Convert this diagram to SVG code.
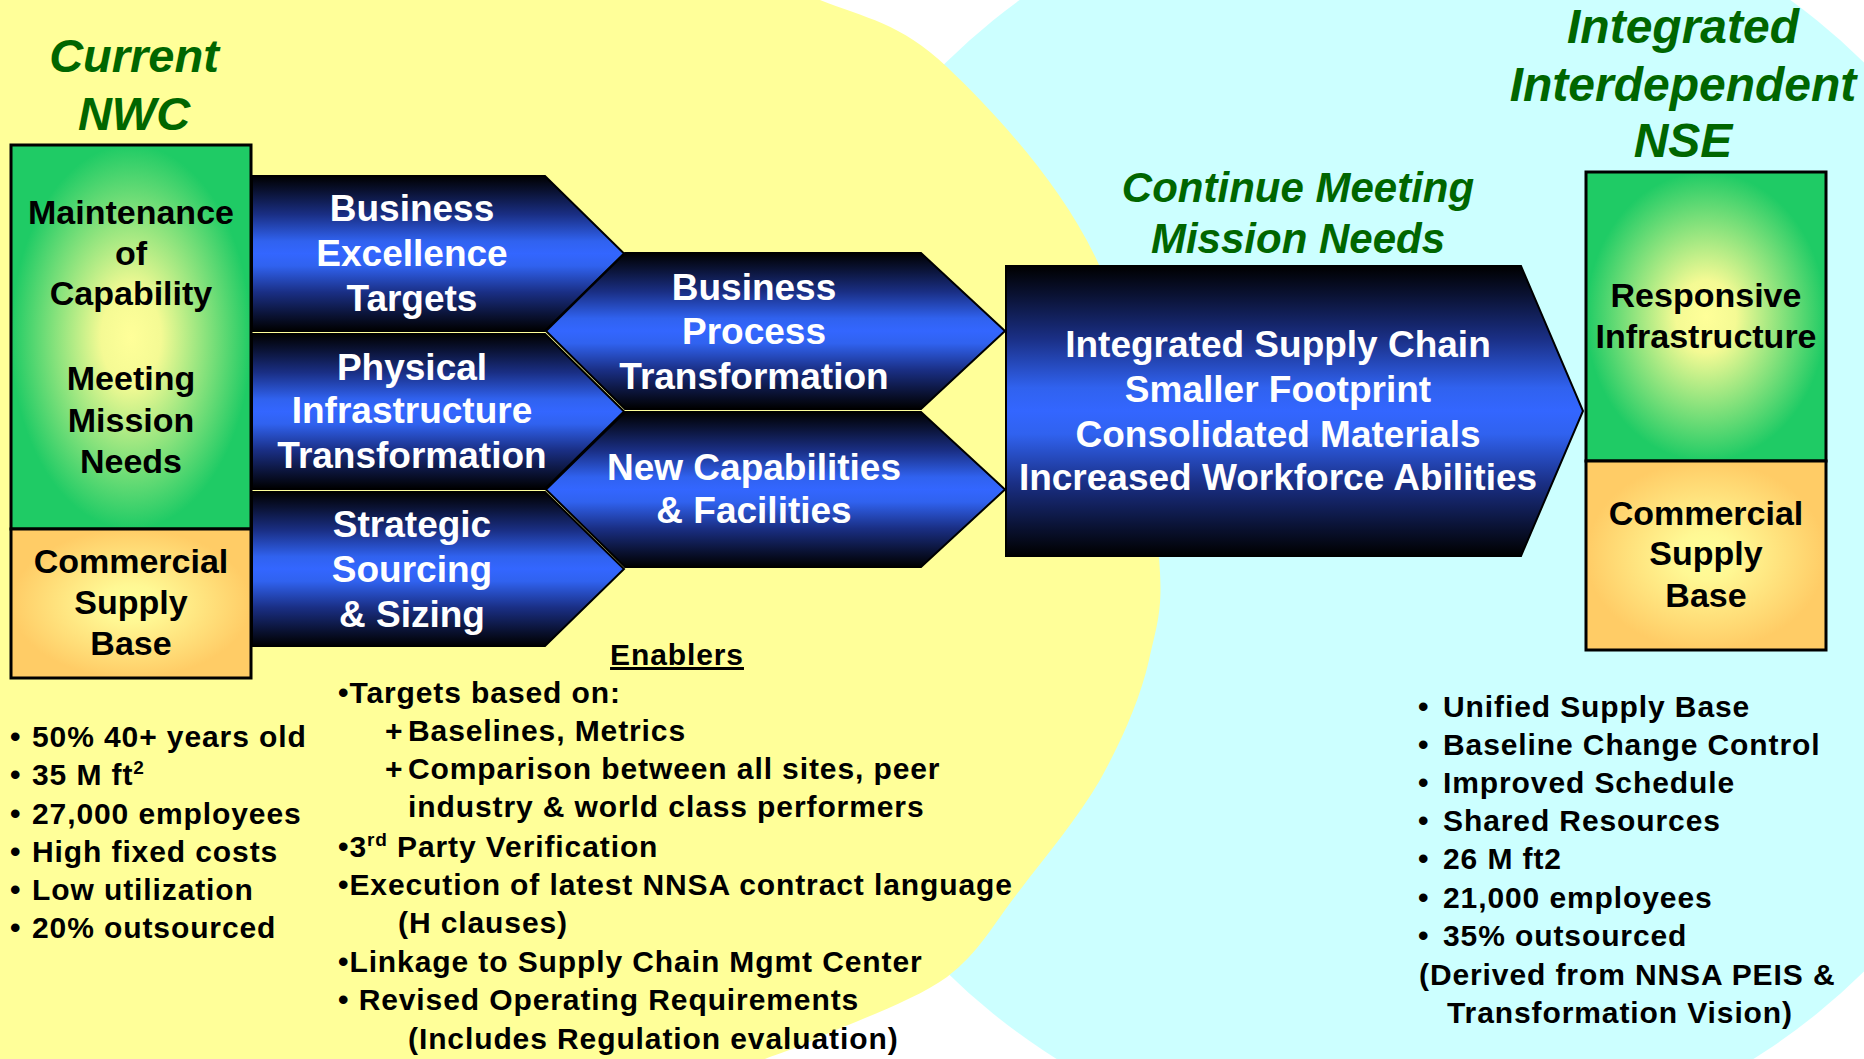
<svg xmlns="http://www.w3.org/2000/svg" width="1864" height="1059" viewBox="0 0 1864 1059">
<style>
.t{font-family:"Liberation Sans",Arial,Helvetica,sans-serif;font-weight:bold}
.w{fill:#fff;font-size:37px;text-anchor:middle}
.k{fill:#000;font-size:34px;text-anchor:middle}
.ttl{fill:#006600;font-style:italic;text-anchor:middle}
.b{fill:#000;font-size:30px;letter-spacing:0.9px}
.box{stroke:#000;stroke-width:3}
.arr{fill:url(#blue);stroke:#000;stroke-width:2;stroke-linejoin:miter}
</style>
<defs>
<linearGradient id="blue" x1="0" y1="0" x2="0" y2="1">
<stop offset="0" stop-color="#000000"/>
<stop offset="0.1" stop-color="#0a1233"/>
<stop offset="0.25" stop-color="#1a2f85"/>
<stop offset="0.42" stop-color="#3062ef"/>
<stop offset="0.5" stop-color="#3366ff"/>
<stop offset="0.58" stop-color="#3062ef"/>
<stop offset="0.75" stop-color="#1a2f85"/>
<stop offset="0.9" stop-color="#0a1233"/>
<stop offset="1" stop-color="#000000"/>
</linearGradient>
<radialGradient id="grn" cx="0.5" cy="0.5" r="0.5">
<stop offset="0" stop-color="#ffff99"/>
<stop offset="0.25" stop-color="#f4fa94"/>
<stop offset="1" stop-color="#1fcb65"/>
</radialGradient>
<radialGradient id="org" cx="0.5" cy="0.5" r="0.5">
<stop offset="0" stop-color="#ffff99"/>
<stop offset="0.25" stop-color="#fff894"/>
<stop offset="1" stop-color="#ffcc66"/>
</radialGradient>
</defs>

<g id="background">
<rect x="0" y="0" width="1864" height="1059" fill="#ffffff"/>
<ellipse cx="1405" cy="517" rx="650" ry="642" fill="#ccffff"/>
<path d="M0,0 L820,0 C865,18 900,22.5 947,67 C994,111.5 1065,188 1100,267 C1135,346 1149,474 1157,540 C1165,605 1158,620 1149,660 C1140,700 1121,742 1100,780 C1078,818 1045,857 1020,890 C994,923 980,952 947,977 C914,1001 850,1023 820,1037 C790,1051 785,1051 765,1059 L0,1059 Z" fill="#ffff99"/>
</g>

<g id="title-current">
<text class="t ttl" x="134" y="72" font-size="47">Current</text>
<text class="t ttl" x="134" y="130" font-size="47">NWC</text>
</g>
<g id="title-integrated">
<text class="t ttl" x="1683" y="43" font-size="48">Integrated</text>
<text class="t ttl" x="1683" y="101" font-size="48">Interdependent</text>
<text class="t ttl" x="1683" y="157" font-size="48">NSE</text>
</g>
<g id="title-continue">
<text class="t ttl" x="1298" y="202" font-size="42">Continue Meeting</text>
<text class="t ttl" x="1298" y="253" font-size="42">Mission Needs</text>
</g>

<g id="node-current-capability">
<rect class="box" x="11" y="145" width="240" height="384" fill="url(#grn)"/>
<text class="t k" x="131" y="224">Maintenance</text>
<text class="t k" x="131" y="265">of</text>
<text class="t k" x="131" y="305">Capability</text>
<text class="t k" x="131" y="390">Meeting</text>
<text class="t k" x="131" y="432">Mission</text>
<text class="t k" x="131" y="473">Needs</text>
</g>
<g id="node-current-supply">
<rect class="box" x="11" y="529" width="240" height="149" fill="url(#org)"/>
<text class="t k" x="131" y="573">Commercial</text>
<text class="t k" x="131" y="614">Supply</text>
<text class="t k" x="131" y="655">Base</text>
</g>

<g id="node-business-excellence">
<polygon class="arr" points="252,176 545,176 624,253.5 545,331 252,331"/>
<text class="t w" x="412" y="221">Business</text>
<text class="t w" x="412" y="266">Excellence</text>
<text class="t w" x="412" y="311">Targets</text>
</g>
<g id="node-physical-infrastructure">
<polygon class="arr" points="252,334 545,334 624,411.5 545,489 252,489"/>
<text class="t w" x="412" y="380">Physical</text>
<text class="t w" x="412" y="423">Infrastructure</text>
<text class="t w" x="412" y="468">Transformation</text>
</g>
<g id="node-strategic-sourcing">
<polygon class="arr" points="252,492 545,492 624,569 545,646 252,646"/>
<text class="t w" x="412" y="537">Strategic</text>
<text class="t w" x="412" y="582">Sourcing</text>
<text class="t w" x="412" y="627">&amp; Sizing</text>
</g>
<g id="node-business-process">
<polygon class="arr" points="546,331 625,253 921,253 1005,331 921,409 625,409"/>
<text class="t w" x="754" y="300">Business</text>
<text class="t w" x="754" y="344">Process</text>
<text class="t w" x="754" y="389">Transformation</text>
</g>
<g id="node-new-capabilities">
<polygon class="arr" points="546,489.5 625,412 921,412 1005,489.5 921,567 625,567"/>
<text class="t w" x="754" y="480">New Capabilities</text>
<text class="t w" x="754" y="523">&amp; Facilities</text>
</g>
<g id="node-integrated-supply-chain">
<polygon class="arr" points="1006,266 1521,266 1583,411 1521,556 1006,556"/>
<text class="t w" x="1278" y="357">Integrated Supply Chain</text>
<text class="t w" x="1278" y="402">Smaller Footprint</text>
<text class="t w" x="1278" y="447">Consolidated Materials</text>
<text class="t w" x="1278" y="490">Increased Workforce Abilities</text>
</g>

<g id="node-responsive-infrastructure">
<rect class="box" x="1586" y="172" width="240" height="289" fill="url(#grn)"/>
<text class="t k" x="1706" y="307">Responsive</text>
<text class="t k" x="1706" y="348">Infrastructure</text>
</g>
<g id="node-future-supply">
<rect class="box" x="1586" y="461" width="240" height="189" fill="url(#org)"/>
<text class="t k" x="1706" y="525">Commercial</text>
<text class="t k" x="1706" y="565">Supply</text>
<text class="t k" x="1706" y="607">Base</text>
</g>

<g id="connectors"></g>

<g id="current-facts">
<text class="t b" x="10" y="747">•</text><text class="t b" x="32" y="747">50% 40+ years old</text>
<text class="t b" x="10" y="785">•</text><text class="t b" x="32" y="785">35 M ft<tspan dy="-11" font-size="19">2</tspan></text>
<text class="t b" x="10" y="824">•</text><text class="t b" x="32" y="824">27,000 employees</text>
<text class="t b" x="10" y="862">•</text><text class="t b" x="32" y="862">High fixed costs</text>
<text class="t b" x="10" y="900">•</text><text class="t b" x="32" y="900">Low utilization</text>
<text class="t b" x="10" y="938">•</text><text class="t b" x="32" y="938">20% outsourced</text>
</g>

<g id="enablers">
<text class="t b" x="677" y="665" text-anchor="middle" text-decoration="underline">Enablers</text>
<text class="t b" x="338" y="703">•Targets based on:</text>
<text class="t b" x="385" y="741" font-weight="normal">+</text><text class="t b" x="408" y="741">Baselines, Metrics</text>
<text class="t b" x="385" y="779" font-weight="normal">+</text><text class="t b" x="408" y="779">Comparison between all sites, peer</text>
<text class="t b" x="408" y="817">industry &amp; world class performers</text>
<text class="t b" x="338" y="857">•3<tspan dy="-11" font-size="19">rd</tspan><tspan dy="11"> Party Verification</tspan></text>
<text class="t b" x="338" y="895">•Execution of latest NNSA contract language</text>
<text class="t b" x="398" y="933">(H clauses)</text>
<text class="t b" x="338" y="972">•Linkage to Supply Chain Mgmt Center</text>
<text class="t b" x="338" y="1010">• Revised Operating Requirements</text>
<text class="t b" x="408" y="1049">(Includes Regulation evaluation)</text>
</g>

<g id="future-facts">
<text class="t b" x="1418" y="717">•</text><text class="t b" x="1443" y="717">Unified Supply Base</text>
<text class="t b" x="1418" y="755">•</text><text class="t b" x="1443" y="755">Baseline Change Control</text>
<text class="t b" x="1418" y="793">•</text><text class="t b" x="1443" y="793">Improved Schedule</text>
<text class="t b" x="1418" y="831">•</text><text class="t b" x="1443" y="831">Shared Resources</text>
<text class="t b" x="1418" y="869">•</text><text class="t b" x="1443" y="869">26 M ft2</text>
<text class="t b" x="1418" y="908">•</text><text class="t b" x="1443" y="908">21,000 employees</text>
<text class="t b" x="1418" y="946">•</text><text class="t b" x="1443" y="946">35% outsourced</text>
<text class="t b" x="1419" y="985">(Derived from NNSA PEIS &amp;</text>
<text class="t b" x="1447" y="1023">Transformation Vision)</text>
</g>
</svg>
